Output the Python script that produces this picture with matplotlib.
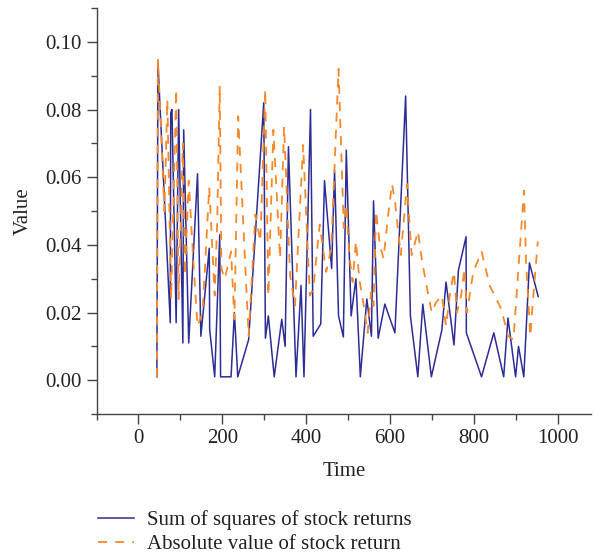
#Recreating the stock return chart (sum of squares vs absolute value)

#importing all libraries which will be used.
import numpy as np
import matplotlib
matplotlib.use("Agg")
import matplotlib.pyplot as plt
from matplotlib.ticker import MultipleLocator

#data
sq_time = [44, 46.5, 76, 77, 80, 90, 96, 106, 108, 120, 141, 149, 169, 170, 182,
           194, 196, 221, 229, 237, 263, 299, 303, 310, 324, 342, 350, 358, 376,
           388, 395, 410.6, 417, 435, 444, 461, 468, 477.5, 489, 496, 507.5, 519,
           529.5, 545, 556, 561, 572, 588, 612, 637.6, 649, 666.7, 678.5, 699,
           724, 734, 753, 763.6, 781.8, 782.5, 818.7, 848, 871.6, 881.8, 900, 907,
           919.6, 933, 954]
sq_value = [0.001, 0.094, 0.017, 0.079, 0.080, 0.017, 0.080, 0.011, 0.074, 0.011,
            0.061, 0.013, 0.039, 0.015, 0.001, 0.043, 0.001, 0.001, 0.020, 0.001,
            0.012, 0.082, 0.0124, 0.019, 0.001, 0.018, 0.010, 0.069, 0.001, 0.028,
            0.001, 0.080, 0.013, 0.0166, 0.059, 0.033, 0.062, 0.019, 0.0128, 0.068,
            0.019, 0.030, 0.001, 0.024, 0.013, 0.053, 0.0124, 0.0225, 0.014, 0.084,
            0.019, 0.001, 0.0225, 0.001, 0.0148, 0.029, 0.0104, 0.0325, 0.0424,
            0.014, 0.001, 0.014, 0.001, 0.0184, 0.001, 0.010, 0.001, 0.0347, 0.0247]

abs_time = [44, 46.5, 62, 69, 78, 90, 96, 106, 111, 120, 133, 141, 153, 169, 182,
            188, 194, 198, 206, 221, 229, 238, 263, 279, 291, 302.6, 310, 322, 338,
            347.5, 362, 373.5, 393, 409, 417, 432.6, 448, 460, 477.5, 490, 496, 503,
            511, 519, 527, 539, 547, 555, 561, 567, 576, 585, 595, 605, 612, 626,
            641, 647, 652, 667, 677, 689, 700, 710, 724, 734, 744, 753, 760, 770,
            778, 784, 799, 819, 838, 866, 882, 895, 905, 920, 925, 935, 941, 953]
abs_value = [0.001, 0.095, 0.050, 0.083, 0.024, 0.086, 0.024, 0.070, 0.031, 0.059,
             0.031, 0.016, 0.020, 0.057, 0.025, 0.047, 0.087, 0.033, 0.030, 0.038,
             0.018, 0.078, 0.013, 0.049, 0.041, 0.086, 0.025, 0.074, 0.036, 0.075,
             0.031, 0.022, 0.0695, 0.025, 0.027, 0.046, 0.032, 0.039, 0.092, 0.045,
             0.052, 0.037, 0.029, 0.041, 0.030, 0.021, 0.014, 0.026, 0.022, 0.050,
             0.040, 0.036, 0.048, 0.058, 0.053, 0.037, 0.058, 0.046, 0.037, 0.044,
             0.035, 0.027, 0.020, 0.023, 0.025, 0.016, 0.026, 0.032, 0.020, 0.025,
             0.033, 0.020, 0.032, 0.038, 0.028, 0.021, 0.013, 0.012, 0.030, 0.056,
             0.035, 0.013, 0.023, 0.041]

plt.rcParams['font.family'] = ['Liberation Serif', 'DejaVu Serif']
plt.rcParams['font.size'] = 15

fig = plt.figure(figsize=(5.94, 5.58), dpi=100)
ax = fig.add_axes([0.1625, 0.258, 0.8325, 0.7276])

ax.plot(sq_time, sq_value, color='#2d2d96', linewidth=1.1,
        label='Sum of squares of stock returns')
ax.plot(abs_time, abs_value, color='#f5892a', linewidth=1.3, dashes=(5, 4.5),
        label='Absolute value of stock return')

ax.set_xlim(-100, 1080)
ax.set_ylim(-0.01, 0.11)
ax.xaxis.set_major_locator(MultipleLocator(200))
ax.xaxis.set_minor_locator(MultipleLocator(100))
ax.yaxis.set_major_locator(MultipleLocator(0.02))
ax.yaxis.set_minor_locator(MultipleLocator(0.01))
ax.yaxis.set_major_formatter(plt.FormatStrFormatter('%.2f'))

for side in ['top', 'right']:
    ax.spines[side].set_visible(False)
for side in ['left', 'bottom']:
    ax.spines[side].set_color('#444444')
    ax.spines[side].set_linewidth(1.0)
ax.tick_params(which='major', direction='out', length=7, width=1.0,
               color='#444444', labelcolor='#222222', labelsize=15)
ax.tick_params(which='minor', direction='out', length=4, width=1.0, color='#444444')

ax.set_xlabel('Time', color='#222222', fontsize=15, labelpad=10)
ax.set_ylabel('Value', color='#222222', fontsize=15, labelpad=9)

fig.legend(loc='upper left', bbox_to_anchor=(0.133, 0.119), frameon=False,
           handlelength=1.75, handletextpad=0.6, labelspacing=0.2,
           fontsize=15, labelcolor='#222222')

fig.savefig('out.png', dpi=100)
